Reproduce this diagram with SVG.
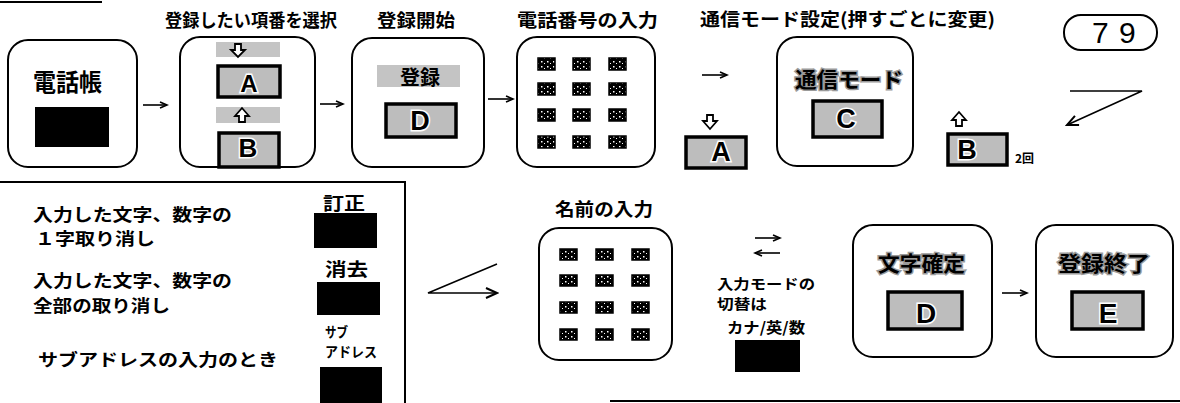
<svg xmlns="http://www.w3.org/2000/svg" width="1180" height="403" viewBox="0 0 1180 403">
<style>
.box{fill:#fff;stroke:#000;stroke-width:2}
.ttl{font-family:"Noto Sans CJK JP","Noto Sans",sans-serif;font-weight:bold;font-size:18px;fill:#000}
.dsc{font-family:"Noto Sans CJK JP","Noto Sans",sans-serif;font-weight:bold;font-size:17px;fill:#000}
.big{font-family:"Noto Sans CJK JP","Noto Sans",sans-serif;font-weight:bold;font-size:21px;fill:#000;stroke:#9a9a9a;stroke-width:3;paint-order:stroke}
.key{fill:#bdbdbd;stroke:#000;stroke-width:3.5}
.ltr{font-family:"Liberation Sans",Arial,sans-serif;font-weight:bold;fill:#000;stroke:#fff;stroke-width:3;paint-order:stroke;text-anchor:middle}
.blk{fill:#000}
.bar{fill:#c4c4c4}
.kp{fill:url(#speck);stroke:#000;stroke-width:1.5}
.ln{fill:none;stroke:#000;stroke-width:1.6}
.blo{fill:#fff;stroke:#000;stroke-width:1.8;stroke-linejoin:miter}
.sm{font-family:"Noto Sans CJK JP","Noto Sans",sans-serif;font-weight:bold;fill:#000}
</style>
<defs>
<pattern id="speck" width="6" height="5" patternUnits="userSpaceOnUse">
<rect width="6" height="5" fill="#000"/>
<rect x="1" y="1" width="1.5" height="1.5" fill="#fff"/>
<rect x="4" y="3" width="1" height="1" fill="#fff"/>
</pattern>
<marker id="ah" markerWidth="10" markerHeight="8" refX="8" refY="4" orient="auto" markerUnits="userSpaceOnUse">
<path d="M1,1 L8,4 L1,7" fill="none" stroke="#000" stroke-width="1.6"/>
</marker>
<marker id="ahL" markerWidth="14" markerHeight="12" refX="12" refY="6" orient="auto" markerUnits="userSpaceOnUse">
<path d="M1,1 L12,6 L1,11" fill="none" stroke="#000" stroke-width="2"/>
</marker>
</defs>

<rect width="1180" height="403" fill="#fff"/>

<!-- frame lines -->
<g id="frame" fill="none" stroke="#000" stroke-width="2">
<path d="M0,2 L102,2"/>
<path d="M0,182 L405,182 L405,403"/>
<path d="M610,401 L1180,401"/>
</g>

<!-- titles -->
<g id="titles">
<text class="ttl" x="165" y="27" textLength="172" lengthAdjust="spacingAndGlyphs">登録したい項番を選択</text>
<text class="ttl" x="377" y="27" textLength="78" lengthAdjust="spacingAndGlyphs">登録開始</text>
<text class="ttl" x="517" y="27" textLength="141" lengthAdjust="spacingAndGlyphs">電話番号の入力</text>
<text class="ttl" x="700" y="26" textLength="295" lengthAdjust="spacingAndGlyphs">通信モード設定(押すごとに変更)</text>
<text class="ttl" x="555" y="216" textLength="98" lengthAdjust="spacingAndGlyphs">名前の入力</text>
</g>

<!-- page number -->
<g id="page">
<rect x="1064" y="15" width="93" height="35" rx="17" fill="#fff" stroke="#000" stroke-width="2"/>
<text x="1092 1119" y="43" font-family="Liberation Sans, Arial, sans-serif" font-size="30">79</text>
</g>

<!-- node 1 phone book -->
<g id="n-phonebook">
<rect class="box" x="8" y="40" width="129" height="127" rx="20"/>
<text x="33" y="91" font-family="Noto Sans CJK JP, sans-serif" font-weight="bold" font-size="24" textLength="69" lengthAdjust="spacingAndGlyphs">電話帳</text>
<rect class="blk" x="35" y="107" width="74" height="40"/>
</g>

<!-- node 2 select item -->
<g id="n-select">
<rect class="box" x="180" y="37" width="135" height="130" rx="20"/>
<rect class="bar" x="216" y="42" width="64" height="15"/>
<path class="blo" d="M235,44 L241,44 L241,50 L245,50 L238,57 L231,50 L235,50 Z"/>
<rect class="key" x="218" y="66" width="62" height="31"/>
<text class="ltr" x="249" y="92" font-size="24">A</text>
<rect class="bar" x="216" y="107" width="64" height="16"/>
<path class="blo" d="M239,122 L245,122 L245,116 L249,116 L242,108 L235,116 L239,116 Z"/>
<rect class="key" x="219" y="133" width="60" height="34"/>
<text class="ltr" x="248" y="157" font-size="26">B</text>
</g>

<!-- node 3 start -->
<g id="n-start">
<rect class="box" x="352" y="38" width="132" height="129" rx="20"/>
<rect class="bar" x="377" y="65" width="83" height="22"/>
<text x="400" y="85" font-family="Noto Sans CJK JP, sans-serif" font-weight="bold" font-size="20" textLength="40" lengthAdjust="spacingAndGlyphs">登録</text>
<rect class="key" x="386" y="104" width="70" height="33"/>
<text class="ltr" x="420" y="130" font-size="27">D</text>
</g>

<!-- node 4 phone number keypad -->
<g id="n-number">
<rect class="box" x="517" y="37" width="138" height="130" rx="20"/>
<g>
<rect class="kp" x="538" y="58" width="17" height="12"/><rect class="kp" x="573" y="58" width="17" height="12"/><rect class="kp" x="609" y="58" width="17" height="12"/>
<rect class="kp" x="538" y="83" width="17" height="12"/><rect class="kp" x="573" y="83" width="17" height="12"/><rect class="kp" x="609" y="83" width="17" height="12"/>
<rect class="kp" x="538" y="109" width="17" height="12"/><rect class="kp" x="573" y="109" width="17" height="12"/><rect class="kp" x="609" y="109" width="17" height="12"/>
<rect class="kp" x="538" y="136" width="17" height="12"/><rect class="kp" x="573" y="136" width="17" height="12"/><rect class="kp" x="609" y="136" width="17" height="12"/>
</g>
</g>

<!-- key A standalone -->
<g id="n-keyA">
<path class="blo" d="M707,115 L713,115 L713,121 L717,121 L710,129 L703,121 L707,121 Z"/>
<rect class="key" x="686" y="137" width="60" height="31"/>
<text class="ltr" x="721" y="161" font-size="27">A</text>
</g>

<!-- node 5 comm mode -->
<g id="n-comm">
<rect class="box" x="777" y="37" width="136" height="129" rx="20"/>
<text class="big" x="795" y="87" textLength="108" lengthAdjust="spacingAndGlyphs">通信モード</text>
<rect class="key" x="813" y="101" width="69" height="36"/>
<text class="ltr" x="846" y="128" font-size="27">C</text>
</g>

<!-- key B twice -->
<g id="n-keyB">
<path class="blo" d="M956,126 L962,126 L962,120 L966,120 L959,112 L952,120 L956,120 Z"/>
<rect class="key" x="948" y="134" width="59" height="31"/>
<text class="ltr" x="967" y="159" font-size="27">B</text>
<text class="sm" x="1015" y="163" font-size="12">2回</text>
</g>

<!-- correction panel -->
<g id="n-panel">
<text class="dsc" x="33" y="221" textLength="199" lengthAdjust="spacingAndGlyphs">入力した文字、数字の</text>
<text class="dsc" x="35" y="245" textLength="120" lengthAdjust="spacingAndGlyphs">１字取り消し</text>
<text class="dsc" x="33" y="287" textLength="199" lengthAdjust="spacingAndGlyphs">入力した文字、数字の</text>
<text class="dsc" x="33" y="312" textLength="137" lengthAdjust="spacingAndGlyphs">全部の取り消し</text>
<text class="dsc" x="38" y="366" textLength="240" lengthAdjust="spacingAndGlyphs">サブアドレスの入力のとき</text>
<text class="sm" x="323" y="210" font-size="18" textLength="42" lengthAdjust="spacingAndGlyphs">訂正</text>
<rect class="blk" x="314" y="213" width="63" height="35"/>
<text class="sm" x="325" y="276" font-size="18" textLength="43" lengthAdjust="spacingAndGlyphs">消去</text>
<rect class="blk" x="317" y="282" width="63" height="33"/>
<text class="sm" x="325" y="337" font-size="14" textLength="23" lengthAdjust="spacingAndGlyphs">サブ</text>
<text class="sm" x="325" y="357" font-size="14" textLength="52" lengthAdjust="spacingAndGlyphs">アドレス</text>
<rect class="blk" x="320" y="367" width="62" height="36"/>
</g>

<!-- node 6 name input keypad -->
<g id="n-name">
<rect class="box" x="539" y="228" width="133" height="132" rx="20"/>
<g>
<rect class="kp" x="560" y="249" width="17" height="11"/><rect class="kp" x="596" y="249" width="17" height="11"/><rect class="kp" x="632" y="249" width="17" height="11"/>
<rect class="kp" x="560" y="275" width="17" height="11"/><rect class="kp" x="596" y="275" width="17" height="11"/><rect class="kp" x="632" y="275" width="17" height="11"/>
<rect class="kp" x="560" y="302" width="17" height="11"/><rect class="kp" x="596" y="302" width="17" height="11"/><rect class="kp" x="632" y="302" width="17" height="11"/>
<rect class="kp" x="560" y="329" width="17" height="11"/><rect class="kp" x="596" y="329" width="17" height="11"/><rect class="kp" x="632" y="329" width="17" height="11"/>
</g>
</g>

<!-- input mode switch -->
<g id="n-mode">
<text class="sm" x="717" y="289" font-size="14" textLength="98" lengthAdjust="spacingAndGlyphs">入力モードの</text>
<text class="sm" x="717" y="309" font-size="14" textLength="50" lengthAdjust="spacingAndGlyphs">切替は</text>
<text class="sm" x="727" y="333" font-size="15" textLength="78" lengthAdjust="spacingAndGlyphs">カナ/英/数</text>
<rect class="blk" x="735" y="340" width="65" height="32"/>
</g>

<!-- node 7 confirm char -->
<g id="n-confirm">
<rect class="box" x="853" y="225" width="139" height="132" rx="20"/>
<text class="big" x="878" y="271" textLength="87" lengthAdjust="spacingAndGlyphs">文字確定</text>
<rect class="key" x="888" y="292" width="74" height="37"/>
<text class="ltr" x="926" y="323" font-size="28">D</text>
</g>

<!-- node 8 finish -->
<g id="n-finish">
<rect class="box" x="1036" y="225" width="137" height="132" rx="20"/>
<text class="big" x="1058" y="271" textLength="92" lengthAdjust="spacingAndGlyphs">登録終了</text>
<rect class="key" x="1072" y="292" width="71" height="37"/>
<text class="ltr" x="1108" y="323" font-size="28">E</text>
</g>

<!-- connectors -->
<g id="connectors" class="ln">
<line x1="143" y1="105" x2="167" y2="105" marker-end="url(#ah)"/>
<line x1="320" y1="104" x2="343" y2="104" marker-end="url(#ah)"/>
<line x1="488" y1="99" x2="513" y2="99" marker-end="url(#ah)"/>
<line x1="702" y1="75" x2="727" y2="75" marker-end="url(#ah)"/>
<polyline points="1070,91 1142,91 1067,125" marker-end="url(#ahL)"/>
<polyline points="497,264 428,293 497,293" marker-end="url(#ahL)"/>
<line x1="755" y1="238" x2="780" y2="238" marker-end="url(#ah)"/>
<line x1="780" y1="253" x2="755" y2="253" marker-end="url(#ah)"/>
<line x1="1002" y1="293" x2="1027" y2="293" marker-end="url(#ah)"/>
</g>
</svg>
